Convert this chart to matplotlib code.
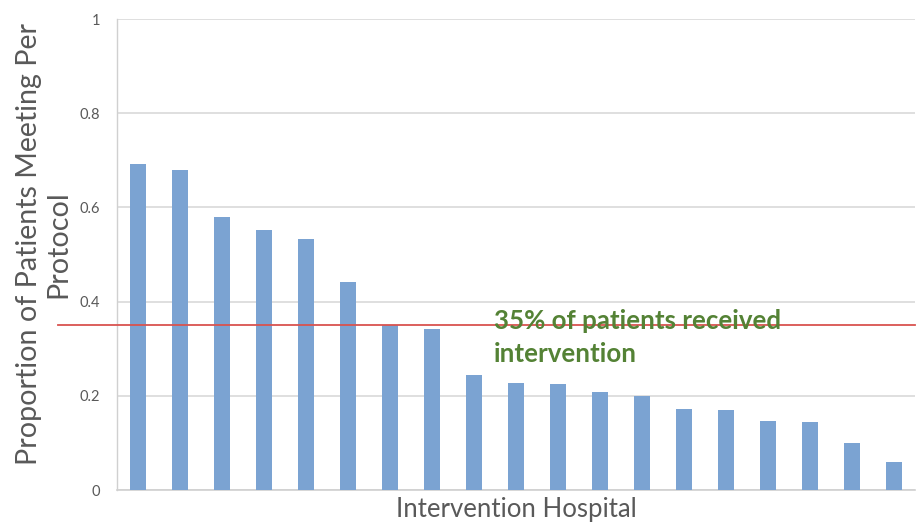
import matplotlib
matplotlib.use("Agg")
import matplotlib.pyplot as plt
import matplotlib.transforms as mtransforms

# Proportion of patients meeting per protocol, by intervention hospital (sorted)
hospitals = list(range(1, 20))
proportions = [0.692, 0.680, 0.580, 0.552, 0.533, 0.442, 0.351, 0.342, 0.244,
               0.227, 0.226, 0.209, 0.199, 0.172, 0.170, 0.147, 0.145, 0.100, 0.060]
overall_rate = 0.35
y_ticks = [0, 0.2, 0.4, 0.6, 0.8, 1]
y_tick_labels = ["0", "0.2", "0.4", "0.6", "0.8", "1"]

plt.rcParams['font.family'] = ['Lato', 'DejaVu Sans']

fig = plt.figure(figsize=(9.16, 5.24), dpi=100)
ax = fig.add_axes([117 / 916, 34 / 524, 798 / 916, 471 / 524])

ax.bar(hospitals, proportions, width=0.38, color='#7BA3D2', zorder=3)

ax.set_xlim(0.5, len(hospitals) + 0.5)
ax.set_ylim(0, 1)
ax.set_yticks(y_ticks)
ax.set_yticklabels(y_tick_labels)
ax.set_xticks([])
ax.tick_params(axis='y', length=0, pad=12, labelsize=10.5, labelcolor='#595959')

ax.grid(axis='y', color='#D9D9D9', linewidth=1.2, zorder=0)
for side in ('top', 'right'):
    ax.spines[side].set_visible(False)
ax.spines['left'].set_color('#D0D0D0')
ax.spines['bottom'].set_color('#D0D0D0')
ax.spines['left'].set_linewidth(1.0)
ax.spines['bottom'].set_linewidth(1.2)

# overall rate reference line, extending past the left edge of the axes
trans = mtransforms.blended_transform_factory(ax.transAxes, ax.transData)
ax.plot([-0.074, 1.0], [overall_rate, overall_rate], transform=trans,
        color='#D9534F', linewidth=1.3, clip_on=False, zorder=4)

ax.text(9.476, 0.324, "35% of patients received\nintervention", color='#548235',
        fontsize=18.6, fontweight='bold', ha='left', va='center',
        linespacing=1.48, zorder=5)

ax.set_ylabel("Proportion of Patients Meeting Per\nProtocol", fontsize=20.6,
              color='#595959', linespacing=1.15)
ax.yaxis.set_label_coords(-0.0576, 0.522)
ax.set_xlabel("Intervention Hospital", fontsize=18.5, color='#595959', labelpad=5)

fig.savefig("out.png", dpi=100, facecolor='white')
